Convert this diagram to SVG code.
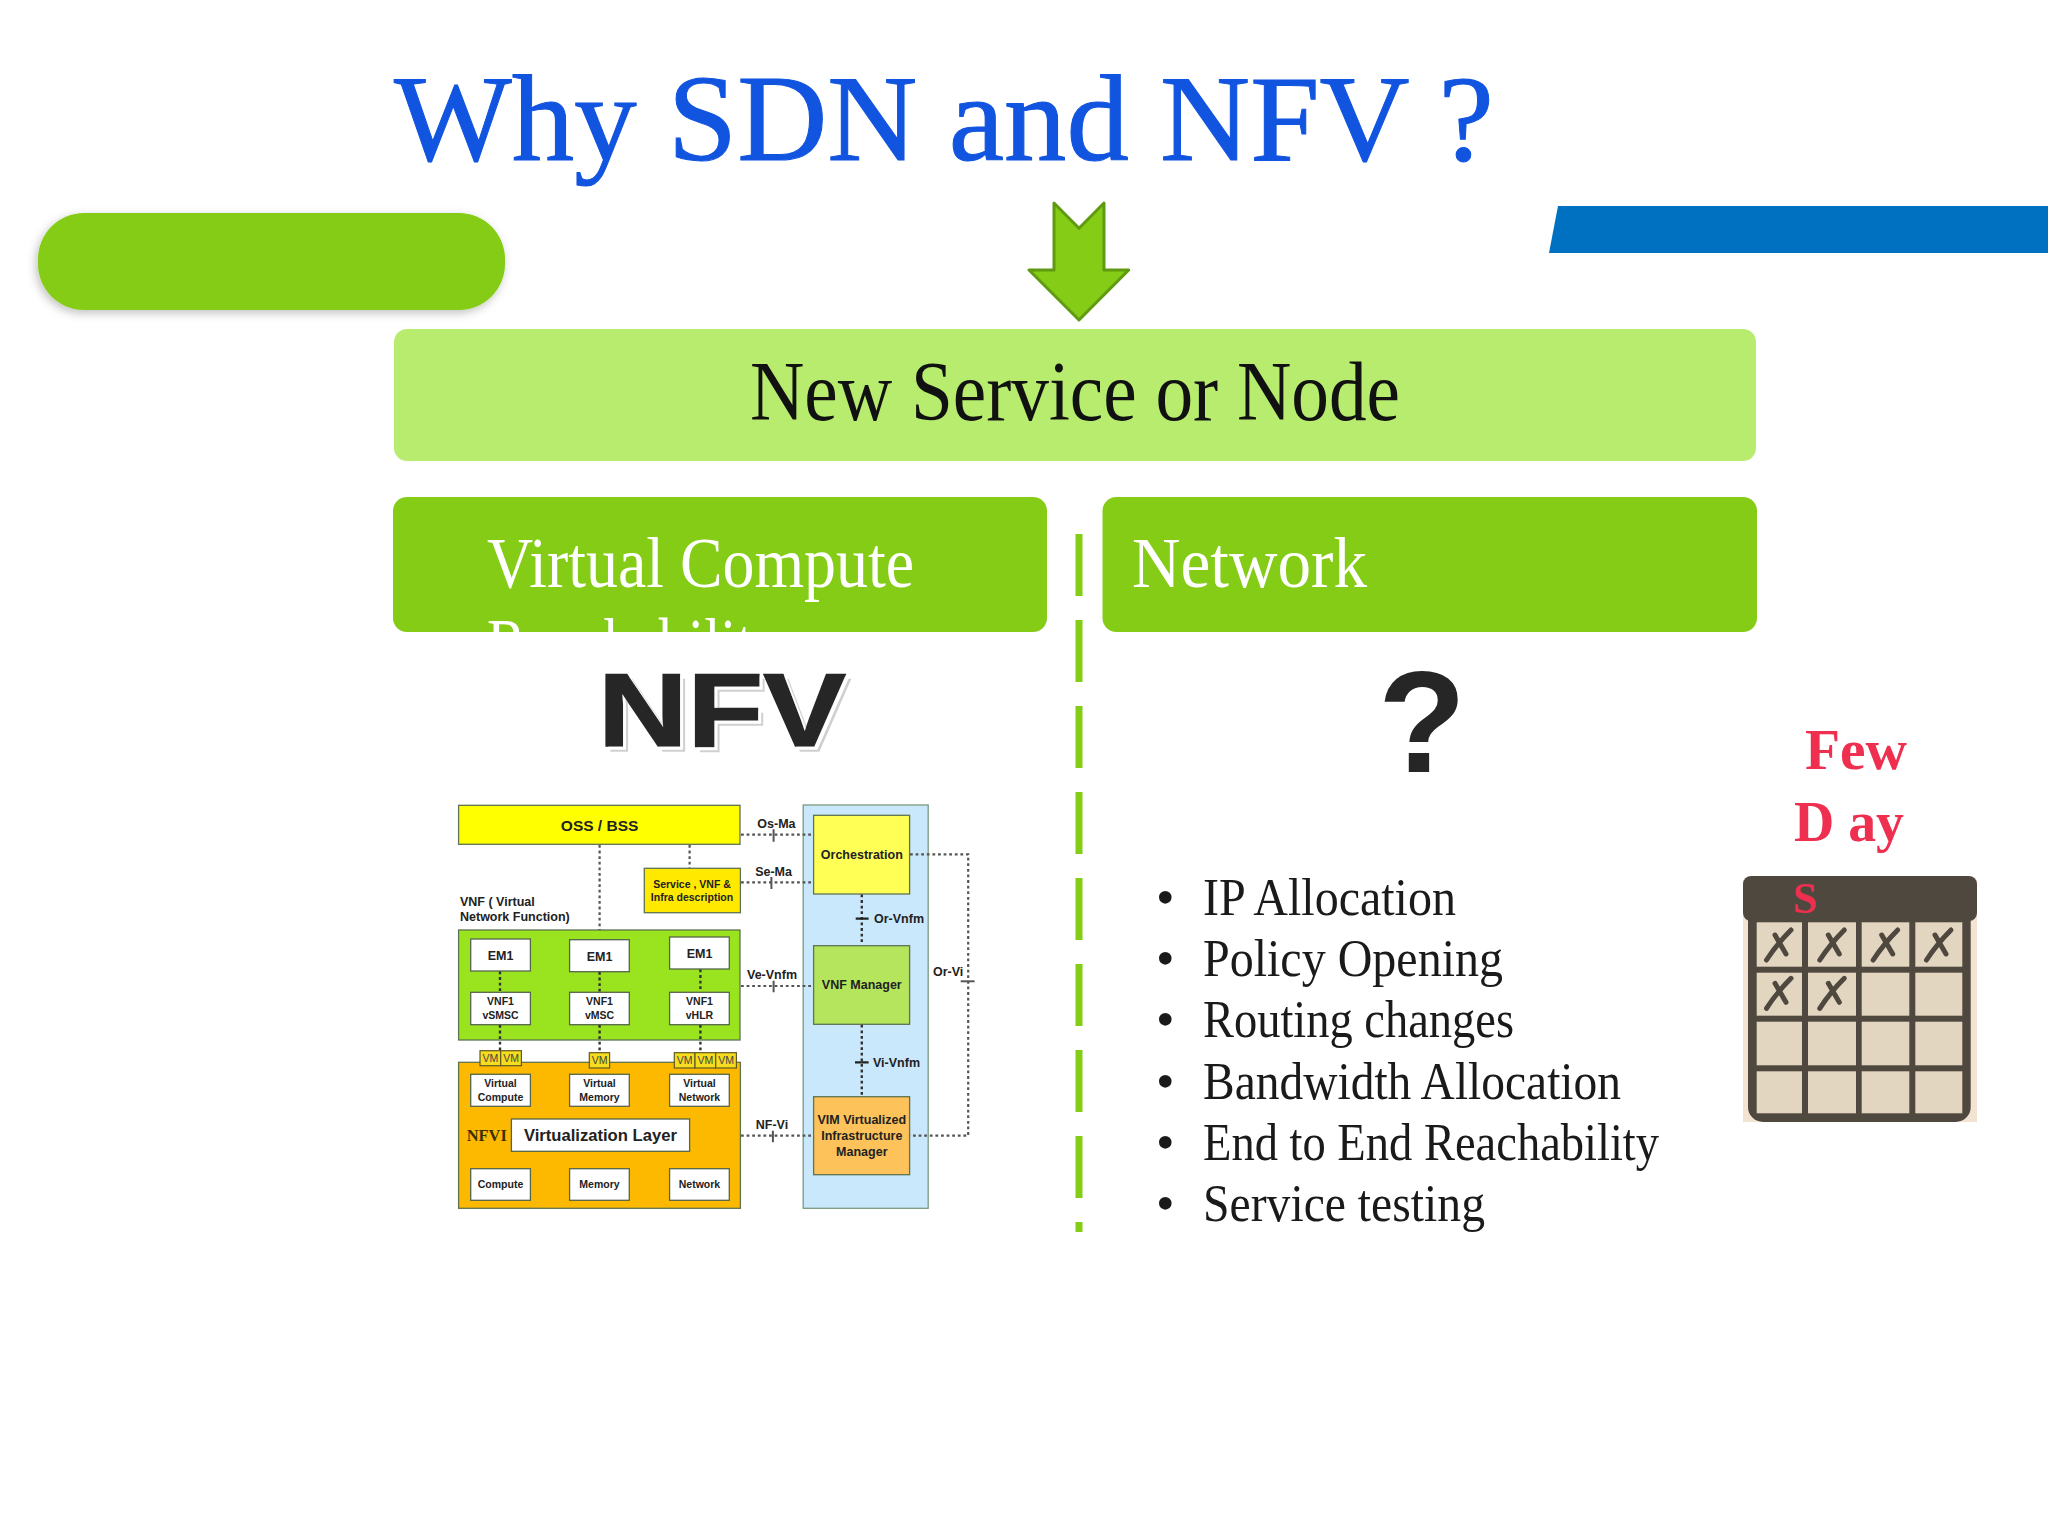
<svg xmlns="http://www.w3.org/2000/svg" width="2048" height="1536" viewBox="0 0 2048 1536">
<defs>
<filter id="sh" x="-10%" y="-20%" width="120%" height="140%"><feDropShadow dx="-2" dy="3" stdDeviation="5" flood-color="#000" flood-opacity=".25"/></filter>
<filter id="nfvs" x="-5%" y="-5%" width="115%" height="120%">
<feOffset in="SourceAlpha" dx="5" dy="5" result="a"/><feFlood flood-color="#cfcfcf"/><feComposite in2="a" operator="in" result="gray"/>
<feOffset in="SourceAlpha" dx="2.5" dy="2.5" result="b"/><feFlood flood-color="#fff"/><feComposite in2="b" operator="in" result="white"/>
<feMerge><feMergeNode in="gray"/><feMergeNode in="white"/><feMergeNode in="SourceGraphic"/></feMerge>
</filter>
<g id="xm"><path d="M-12.5 15 C-6 5 4 -7 12 -15 M-4 -10 L7 9" fill="none" stroke="#4f483f" stroke-width="5" stroke-linecap="round"/></g>
</defs>
<style>
text{font-family:"Liberation Sans",Arial,sans-serif}
.serif{font-family:"Liberation Serif","Times New Roman",serif}
.b{stroke:#55664a;stroke-width:1.3;fill:#fff}
.f{stroke:#5f7350;stroke-width:1.3}
.t{font-weight:700;fill:#222;text-anchor:middle}
.s{font-size:10.5px}
.m{font-size:12.5px}
.d{fill:none;stroke:#555;stroke-width:2.2;stroke-dasharray:2.8 2.8}
.dk{fill:none;stroke:#333;stroke-width:2.4;stroke-dasharray:2.8 2.8}
.k{stroke:#555;stroke-width:2;fill:none}
.k2{stroke:#222;stroke-width:2.2;fill:none}
.vm{fill:#f6dc1e;stroke:#5f5a20;stroke-width:1.2}
.vt{font-size:10.5px;fill:#444;text-anchor:middle}
.bul{font-size:53px;fill:#1a1a1a}
.red{fill:#ee2f4f;font-weight:700}
.cell{fill:#e3d6c0}
</style>
<rect width="2048" height="1536" fill="#fff"/>
<g id="title"><text class="serif" x="394" y="160" font-size="122" fill="#1154e0" stroke="#1154e0" stroke-width="1" textLength="1100" lengthAdjust="spacingAndGlyphs">Why SDN and NFV ?</text></g>
<g id="pill"><rect x="38" y="213" width="467" height="97" rx="46" fill="#84cc16" filter="url(#sh)"/></g>
<g id="bar"><polygon points="1558,206 2048,206 2048,253 1549,253" fill="#0070c0"/></g>
<g id="arrow"><polygon points="1054,203 1079,228.3 1104,203 1104,270 1128.7,270 1079,320 1029,270 1054,270" fill="#84cc16" stroke="#5f9a10" stroke-width="3" stroke-linejoin="round"/></g>
<g id="new-service"><rect x="394" y="329" width="1362" height="132" rx="13" fill="#b8ec6e"/>
<text class="serif" x="750" y="420" font-size="84" fill="#111" textLength="650" lengthAdjust="spacingAndGlyphs">New Service or Node</text></g>
<g id="virtual-compute"><rect x="393" y="497" width="654" height="135" rx="14" fill="#84cc16"/>
<text class="serif" x="487" y="587" font-size="72" fill="#fff" textLength="427" lengthAdjust="spacingAndGlyphs">Virtual Compute</text>
<text class="serif" x="487" y="668" font-size="72" fill="#fff" textLength="295" lengthAdjust="spacingAndGlyphs">Reachability</text></g>
<g id="network"><rect x="1102.5" y="497" width="654.5" height="135" rx="14" fill="#84cc16"/>
<text class="serif" x="1132" y="587" font-size="72" fill="#fff" textLength="235" lengthAdjust="spacingAndGlyphs">Network</text></g>
<g id="divider"><line x1="1079" y1="534" x2="1079" y2="1232" stroke="#84cc16" stroke-width="7" stroke-dasharray="62 24"/></g>
<g id="nfv-heading"><text x="598" y="745.7" font-size="104" font-weight="700" fill="#262626" stroke="#262626" stroke-width="1.5" textLength="248" lengthAdjust="spacingAndGlyphs" filter="url(#nfvs)">NFV</text></g>
<g id="question"><text x="1422" y="772" font-size="144" font-weight="700" fill="#262626" text-anchor="middle">?</text></g>

<g id="oss-bss"><rect class="f" x="458.6" y="805.3" width="281.4" height="39" fill="#ff0"/><text class="t" x="599.6" y="830.7" font-size="15.5">OSS / BSS</text></g>
<g id="service-desc"><rect class="f" x="644.3" y="868.3" width="96.1" height="44.4" fill="#ffe900"/><text class="t s" x="692" y="888">Service , VNF &amp;</text><text class="t s" x="692" y="901">Infra description</text></g>
<g id="vnf-label"><text x="460" y="905.5" font-size="12.5" font-weight="700" fill="#222">VNF ( Virtual</text><text x="460" y="921" font-size="12.5" font-weight="700" fill="#222">Network Function)</text></g>
<g id="vnf"><rect class="f" x="458.6" y="930" width="281.4" height="110" fill="#99e41f"/></g>
<g id="em1-a"><rect class="b" x="470.7" y="939" width="59.7" height="32"/><text class="t m" x="500.5" y="960">EM1</text></g>
<g id="em1-b"><rect class="b" x="569.6" y="939.7" width="59.7" height="32"/><text class="t m" x="599.5" y="960.7">EM1</text></g>
<g id="em1-c"><rect class="b" x="669.6" y="937" width="59.7" height="32"/><text class="t m" x="699.5" y="958">EM1</text></g>
<g id="vnf1-a"><rect class="b" x="470.7" y="992.3" width="59.7" height="32.4"/><text class="t s" x="500.5" y="1005">VNF1</text><text class="t s" x="500.5" y="1019">vSMSC</text></g>
<g id="vnf1-b"><rect class="b" x="569.6" y="992.3" width="59.7" height="32.4"/><text class="t s" x="599.5" y="1005">VNF1</text><text class="t s" x="599.5" y="1019">vMSC</text></g>
<g id="vnf1-c"><rect class="b" x="669.6" y="992.3" width="59.7" height="32.4"/><text class="t s" x="699.5" y="1005">VNF1</text><text class="t s" x="699.5" y="1019">vHLR</text></g>
<g id="nfvi"><rect class="f" x="458.6" y="1062.3" width="281.8" height="146" fill="#fdb900"/>
<text class="serif" x="466.8" y="1141" font-size="16.5" font-weight="700" fill="#3a3000" textLength="40" lengthAdjust="spacingAndGlyphs">NFVI</text></g>
<g id="vms">
<rect class="vm" x="480" y="1050.7" width="20.7" height="15"/><rect class="vm" x="500.7" y="1050.7" width="20.7" height="15"/>
<rect class="vm" x="589.3" y="1052.7" width="20.3" height="15.3"/>
<rect class="vm" x="674.3" y="1052.7" width="20.7" height="15.3"/><rect class="vm" x="695" y="1052.7" width="20.7" height="15.3"/><rect class="vm" x="715.7" y="1052.7" width="20.7" height="15.3"/>
<text class="vt" x="490.3" y="1062">VM</text><text class="vt" x="511" y="1062">VM</text><text class="vt" x="599.5" y="1064">VM</text><text class="vt" x="684.6" y="1064">VM</text><text class="vt" x="705.3" y="1064">VM</text><text class="vt" x="726" y="1064">VM</text></g>
<g id="virtual-compute-box"><rect class="b" x="470.7" y="1074.3" width="59.7" height="32"/><text class="t s" x="500.5" y="1087.3">Virtual</text><text class="t s" x="500.5" y="1100.7">Compute</text></g>
<g id="virtual-memory"><rect class="b" x="569.6" y="1074.3" width="59.7" height="32"/><text class="t s" x="599.5" y="1087.3">Virtual</text><text class="t s" x="599.5" y="1100.7">Memory</text></g>
<g id="virtual-network"><rect class="b" x="669.6" y="1074.3" width="59.7" height="32"/><text class="t s" x="699.5" y="1087.3">Virtual</text><text class="t s" x="699.5" y="1100.7">Network</text></g>
<g id="virt-layer"><rect class="b" x="511.4" y="1119" width="178.2" height="32.3"/><text class="t" x="600.4" y="1141" font-size="16" textLength="153" lengthAdjust="spacingAndGlyphs">Virtualization Layer</text></g>
<g id="compute"><rect class="b" x="470.7" y="1168.7" width="59.7" height="31.6"/><text class="t s" x="500.5" y="1188.3">Compute</text></g>
<g id="memory"><rect class="b" x="569.6" y="1168.7" width="59.7" height="31.6"/><text class="t s" x="599.5" y="1188.3">Memory</text></g>
<g id="network-box"><rect class="b" x="669.6" y="1168.7" width="59.7" height="31.6"/><text class="t s" x="699.5" y="1188.3">Network</text></g>
<g id="mano"><rect x="803.2" y="805" width="125" height="403.3" fill="#c9e8fb" stroke="#7a9a80" stroke-width="1.3"/></g>
<g id="orchestration"><rect class="f" x="813.6" y="815.3" width="96" height="78.7" fill="#ffff55"/><text class="t m" x="861.8" y="859">Orchestration</text></g>
<g id="vnf-manager"><rect class="f" x="813.6" y="945.7" width="96" height="78.6" fill="#b5e55c"/><text class="t m" x="861.8" y="989.3">VNF Manager</text></g>
<g id="vim"><rect class="f" x="813.6" y="1096.7" width="96" height="78" fill="#fdc25a"/><text class="t m" x="861.8" y="1124.3">VIM Virtualized</text><text class="t m" x="861.8" y="1140">Infrastructure</text><text class="t m" x="861.8" y="1155.7">Manager</text></g>

<g id="connectors">
<path class="d" d="M599.6 845V930M689.6 845V868M741 834.7H813M741 882.3H812M741 986H813M741 1135.7H813"/>
<path class="k" d="M773.6 829.3V841.7M771.4 877V889M773.6 980.7V992.3M772.9 1130.7V1142.3"/>
<path class="dk" d="M500 971.5V992M599.6 972V992M700.4 969.5V992M500 1025V1050M599.6 1025V1052M700.4 1025V1052M861.8 894.5V945M861.8 1024.8V1096"/>
<path class="d" d="M910 854.3H968.2V1135.7H910"/>
<path class="k2" d="M855.7 918.7H868.6M855 1062.3H868.6"/>
<path class="k" d="M960.7 981.3H974.6"/>
<g font-size="12.5" font-weight="700" fill="#222">
<text x="776.4" y="827.7" text-anchor="middle">Os-Ma</text>
<text x="773.6" y="875.7" text-anchor="middle">Se-Ma</text>
<text x="772" y="979.3" text-anchor="middle">Ve-Vnfm</text>
<text x="772" y="1129" text-anchor="middle">NF-Vi</text>
<text x="874" y="923.3">Or-Vnfm</text>
<text x="873" y="1066.7">Vi-Vnfm</text>
<text x="933" y="976">Or-Vi</text>
</g></g>

<g id="checklist">
<text class="serif bul" x="1156" y="914.5">•</text><text class="serif bul" x="1203" y="914.5" textLength="253" lengthAdjust="spacingAndGlyphs">IP Allocation</text>
<text class="serif bul" x="1156" y="976">•</text><text class="serif bul" x="1203" y="976" textLength="300" lengthAdjust="spacingAndGlyphs">Policy Opening</text>
<text class="serif bul" x="1156" y="1037">•</text><text class="serif bul" x="1203" y="1037" textLength="311" lengthAdjust="spacingAndGlyphs">Routing changes</text>
<text class="serif bul" x="1156" y="1099">•</text><text class="serif bul" x="1203" y="1099" textLength="418" lengthAdjust="spacingAndGlyphs">Bandwidth Allocation</text>
<text class="serif bul" x="1156" y="1160">•</text><text class="serif bul" x="1203" y="1160" textLength="456" lengthAdjust="spacingAndGlyphs">End to End Reachability</text>
<text class="serif bul" x="1156" y="1221">•</text><text class="serif bul" x="1203" y="1221" textLength="282" lengthAdjust="spacingAndGlyphs">Service testing</text>
</g>
<g id="few-day">
<text class="serif red" x="1805" y="769" font-size="58" textLength="102" lengthAdjust="spacingAndGlyphs">Few</text>
<text class="serif red" x="1794" y="841" font-size="58" textLength="110" lengthAdjust="spacingAndGlyphs">D ay</text>
</g>
<g id="calendar">
<rect x="1743" y="880" width="234" height="242" fill="#f3e3d1"/>
<rect x="1748" y="900" width="222.7" height="222" rx="15" fill="#4f483f"/>
<rect x="1743" y="876" width="234" height="45" rx="8" fill="#4f483f"/>
<g class="cell">
<rect x="1756.7" y="922.3" width="45.3" height="44.4"/><rect x="1808" y="922.3" width="48" height="44.4"/><rect x="1861.7" y="922.3" width="47.6" height="44.4"/><rect x="1915.3" y="922.3" width="47" height="44.4"/>
<rect x="1756.7" y="972.7" width="45.3" height="43"/><rect x="1808" y="972.7" width="48" height="43"/><rect x="1861.7" y="972.7" width="47.6" height="43"/><rect x="1915.3" y="972.7" width="47" height="43"/>
<rect x="1756.7" y="1021.7" width="45.3" height="43.6"/><rect x="1808" y="1021.7" width="48" height="43.6"/><rect x="1861.7" y="1021.7" width="47.6" height="43.6"/><rect x="1915.3" y="1021.7" width="47" height="43.6"/>
<rect x="1756.7" y="1071.3" width="45.3" height="42"/><rect x="1808" y="1071.3" width="48" height="42"/><rect x="1861.7" y="1071.3" width="47.6" height="42"/><rect x="1915.3" y="1071.3" width="47" height="42"/>
</g>
<use href="#xm" x="1779" y="945"/><use href="#xm" x="1832.3" y="945"/><use href="#xm" x="1885.7" y="945"/><use href="#xm" x="1939" y="945"/><use href="#xm" x="1779" y="993.3"/><use href="#xm" x="1832.3" y="993.3"/>
<text class="serif red" x="1805" y="912.7" font-size="44" text-anchor="middle">S</text>
</g>
</svg>
